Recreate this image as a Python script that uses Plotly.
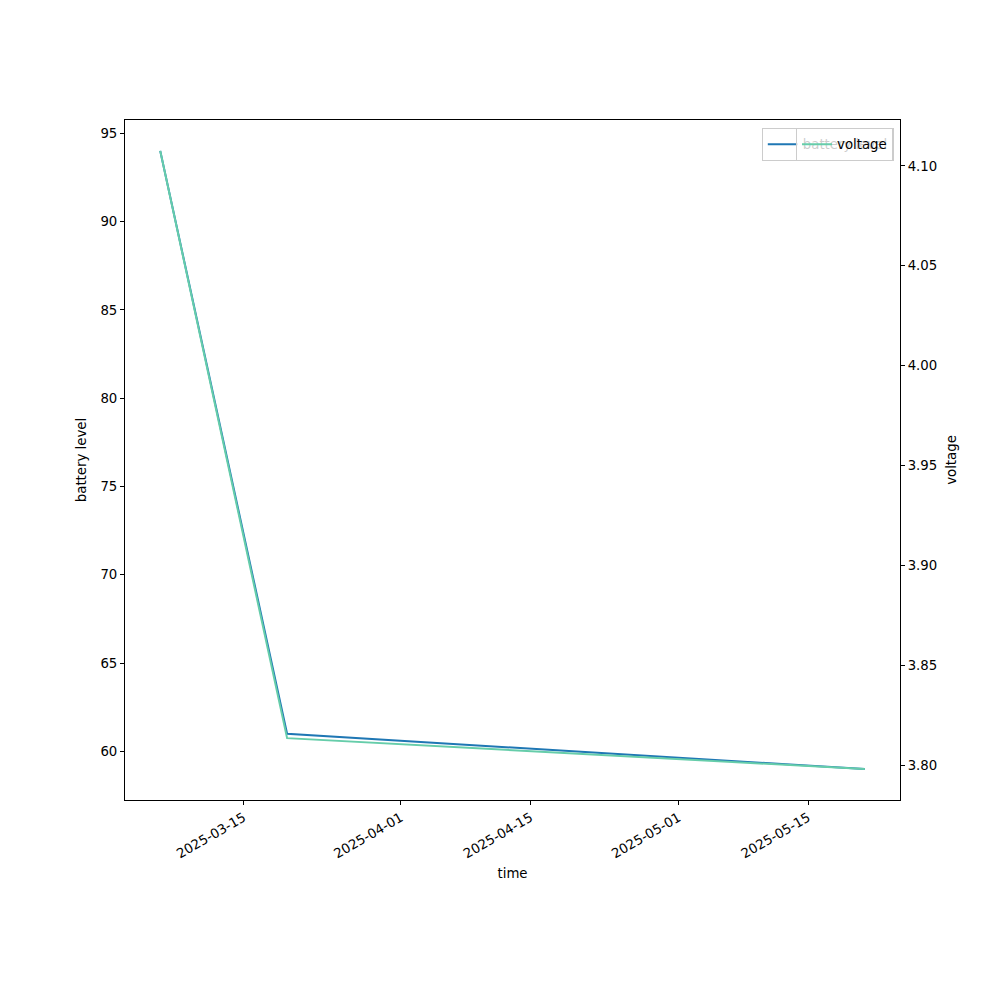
import pandas as pd
import plotly.graph_objects as go

times = ["2025-03-06 00:00", "2025-03-19 17:00", "2025-05-21 03:00"]
battery = [94, 61, 59]
voltage = [4.1075, 3.8135, 3.798]
x_ticks = ["2025-03-15", "2025-04-01", "2025-04-15", "2025-05-01", "2025-05-15"]
y1_ticks = [60, 65, 70, 75, 80, 85, 90, 95]
y2_ticks = [3.80, 3.85, 3.90, 3.95, 4.00, 4.05, 4.10]

t = pd.to_datetime(times)
span = t.max() - t.min()
xr = [t.min() - 0.05 * span, t.max() + 0.05 * span]

def pad(v):
    lo, hi = min(v), max(v)
    d = (hi - lo) * 0.05
    return [lo - d, hi + d]

FONT = "DejaVu Sans"
FS = 13.3

fig = go.Figure()
fig.add_trace(go.Scatter(x=t, y=battery, mode="lines", name="battery level",
                         line=dict(color="#1f77b4", width=2), yaxis="y",
                         legend="legend", showlegend=True))
fig.add_trace(go.Scatter(x=t, y=voltage, mode="lines", name="voltage",
                         line=dict(color="#66cdaa", width=2), yaxis="y2",
                         legend="legend2", showlegend=True))

axis_common = dict(showline=True, linecolor="black", linewidth=1, ticks="outside",
                   ticklen=4, tickcolor="black", showgrid=False, zeroline=False,
                   tickfont=dict(family=FONT, size=FS, color="black"))

fig.update_layout(
    width=1000, height=1000,
    margin=dict(l=117, r=108, t=112, b=208),
    showlegend=True,
    plot_bgcolor="white", paper_bgcolor="white",
    font=dict(family=FONT, size=FS, color="black"),
    xaxis=dict(**axis_common, range=xr, mirror=True, tickvals=pd.to_datetime(x_ticks),
               ticktext=x_ticks, tickangle=-30,
               title=dict(text="time", font=dict(family=FONT, size=FS), standoff=8)),
    yaxis=dict(**axis_common, range=pad(battery), tickvals=y1_ticks,
               title=dict(text="battery level", font=dict(family=FONT, size=FS), standoff=10)),
    yaxis2=dict(**axis_common, range=pad(voltage), overlaying="y", side="right",
                tickvals=y2_ticks, tickformat=".2f",
                title=dict(text="voltage", font=dict(family=FONT, size=FS), standoff=10)),
    legend=dict(visible=True, x=0.992, y=0.988, xanchor="right", yanchor="top",
                bgcolor="rgba(255,255,255,0.8)", bordercolor="#cccccc", borderwidth=1,
                font=dict(family=FONT, size=FS), itemwidth=30),
    legend2=dict(visible=True, x=0.991, y=0.988, xanchor="right", yanchor="top",
                 bgcolor="rgba(255,255,255,0.8)", bordercolor="#cccccc", borderwidth=1,
                 font=dict(family=FONT, size=FS), itemwidth=30),
)

fig.write_html("out.html")
